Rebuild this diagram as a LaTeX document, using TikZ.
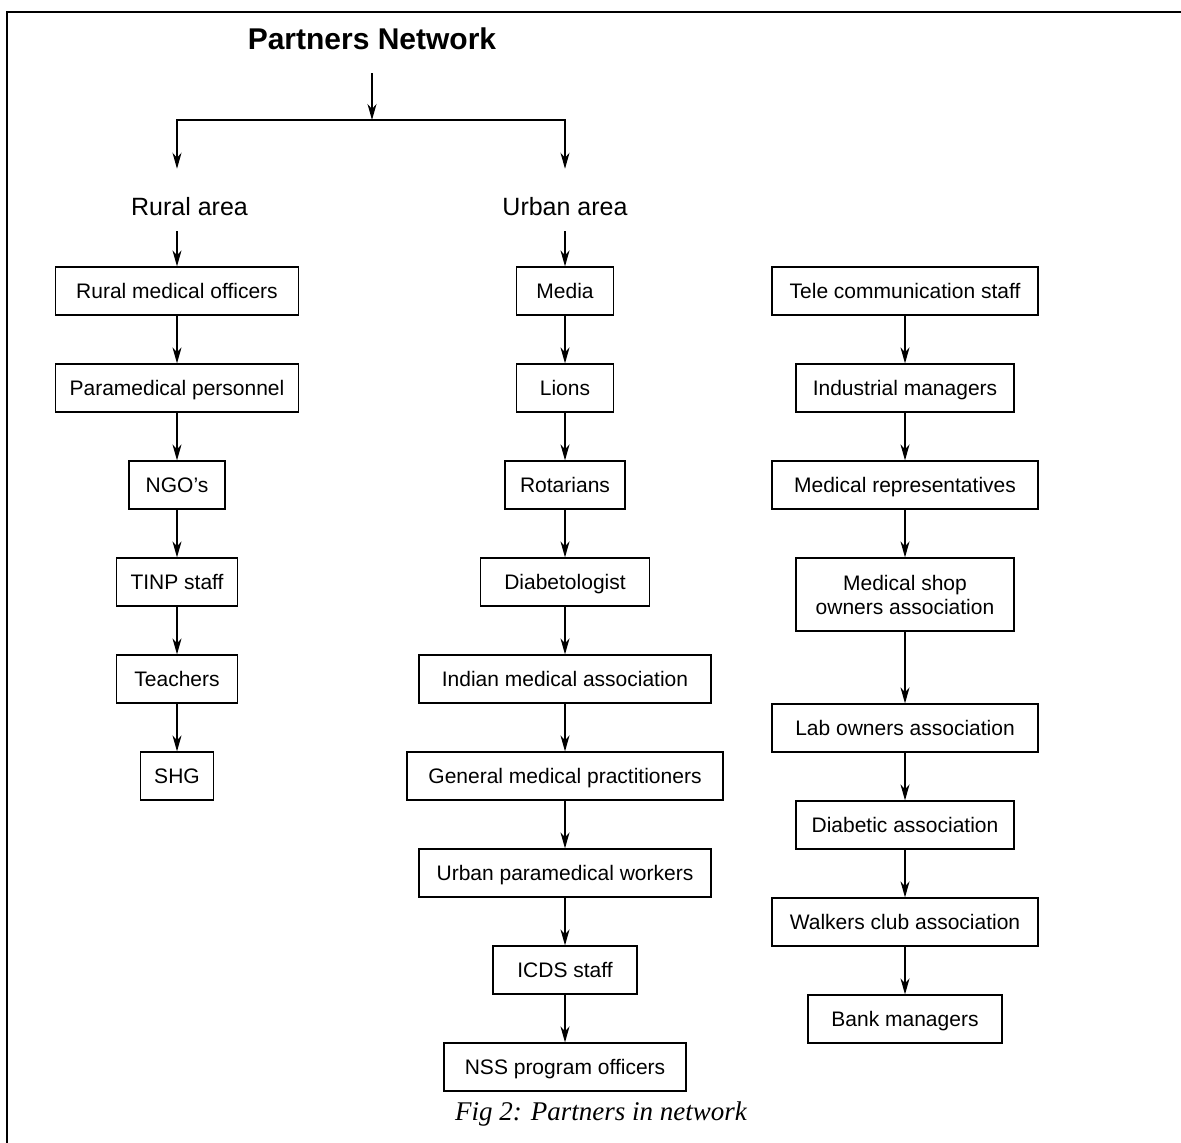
\documentclass[tikz,border=0pt]{standalone}
\usepackage{fontspec}
\setmainfont{Liberation Sans}
\newfontfamily\capfont{Liberation Serif}
\usetikzlibrary{arrows.meta, positioning}
\tikzstyle{arrow} = [semithick, -{Stealth[length=8pt, width=4.5pt, inset=2.5pt]}]
\tikzstyle{partner} = [rectangle, draw=black, semithick, minimum height=24pt, text centered, text height=8.2pt, text depth=1pt, font=\fontsize{10.5}{12}\selectfont]
\tikzstyle{area} = [font=\fontsize{12.5}{15}\selectfont]

\begin{document}
\begin{tikzpicture}[x=0.5pt, y=-0.5pt, node distance=23.9pt]
        \useasboundingbox (0,0) rectangle (1181,1143);
        % Frame
        \draw[line width=0.75pt] (7,1143) -- (7,12) -- (1181,12);

        % Heading
        \node (title) at (372,39) {\fontsize{15}{18}\selectfont\bfseries Partners Network};
        \coordinate (split) at (372,120);
        \node (rural) [area] at (189.5,207) {Rural area};
        \node (urban) [area] at (565,207) {Urban area};

        % Rural column
        \node (rmo) [partner, minimum width=121.5pt] at (177,291) {Rural medical officers};
        \node (para) [partner, minimum width=121.5pt, below=of rmo] {Paramedical personnel};
        \node (ngo) [partner, minimum width=48pt, below=of para] {NGO's};
        \node (tinp) [partner, minimum width=60.5pt, below=of ngo] {TINP staff};
        \node (teach) [partner, minimum width=60.5pt, below=of tinp] {Teachers};
        \node (shg) [partner, minimum width=36.5pt, below=of teach] {SHG};

        % Urban column
        \node (media) [partner, minimum width=48.5pt] at (565,291) {Media};
        \node (lions) [partner, minimum width=48.5pt, below=of media] {Lions};
        \node (rot) [partner, minimum width=60pt, below=of lions] {Rotarians};
        \node (diab) [partner, minimum width=84.5pt, below=of rot] {Diabetologist};
        \node (ima) [partner, minimum width=146pt, below=of diab] {Indian medical association};
        \node (gmp) [partner, minimum width=158pt, below=of ima] {General medical practitioners};
        \node (upw) [partner, minimum width=146pt, below=of gmp] {Urban paramedical workers};
        \node (icds) [partner, minimum width=72pt, below=of upw] {ICDS staff};
        \node (nss) [partner, minimum width=121pt, below=of icds] {NSS program officers};

        % Third column
        \node (tele) [partner, minimum width=133pt] at (905,291) {Tele communication staff};
        \node (ind) [partner, minimum width=109pt, below=of tele] {Industrial managers};
        \node (rep) [partner, minimum width=133pt, below=of ind] {Medical representatives};
        \node (shop) [partner, minimum width=109pt, minimum height=36.5pt, text height=, text depth=, align=center, below=of rep] {Medical shop\\owners association};
        \node (lab) [partner, minimum width=133pt, below=35.9pt of shop] {Lab owners association};
        \node (dassoc) [partner, minimum width=109pt, below=of lab] {Diabetic association};
        \node (walk) [partner, minimum width=133pt, below=of dassoc] {Walkers club association};
        \node (bank) [partner, minimum width=97pt, below=of walk] {Bank managers};

        \node (caption) at (601,1114) {\capfont\itshape\fontsize{13.5}{16}\selectfont Fig 2: Partners in network};

        % Arrows from the heading
        \draw [arrow, shorten <=8pt] (title) -- (split);
        \draw [arrow, shorten >=11pt] (split) -| (rmo |- rural.north);
        \draw [arrow, shorten >=11pt] (split) -| (media |- urban.north);
        \draw [arrow, shorten <=4pt] (rural.south -| rmo) -- (rmo);
        \draw [arrow, shorten <=4pt] (urban.south -| media) -- (media);

        % Rural chain
        \draw [arrow] (rmo) -- (para);
        \draw [arrow] (para) -- (ngo);
        \draw [arrow] (ngo) -- (tinp);
        \draw [arrow] (tinp) -- (teach);
        \draw [arrow] (teach) -- (shg);

        % Urban chain
        \draw [arrow] (media) -- (lions);
        \draw [arrow] (lions) -- (rot);
        \draw [arrow] (rot) -- (diab);
        \draw [arrow] (diab) -- (ima);
        \draw [arrow] (ima) -- (gmp);
        \draw [arrow] (gmp) -- (upw);
        \draw [arrow] (upw) -- (icds);
        \draw [arrow] (icds) -- (nss);

        % Third chain
        \draw [arrow] (tele) -- (ind);
        \draw [arrow] (ind) -- (rep);
        \draw [arrow] (rep) -- (shop);
        \draw [arrow] (shop) -- (lab);
        \draw [arrow] (lab) -- (dassoc);
        \draw [arrow] (dassoc) -- (walk);
        \draw [arrow] (walk) -- (bank);
\end{tikzpicture}
\end{document}
